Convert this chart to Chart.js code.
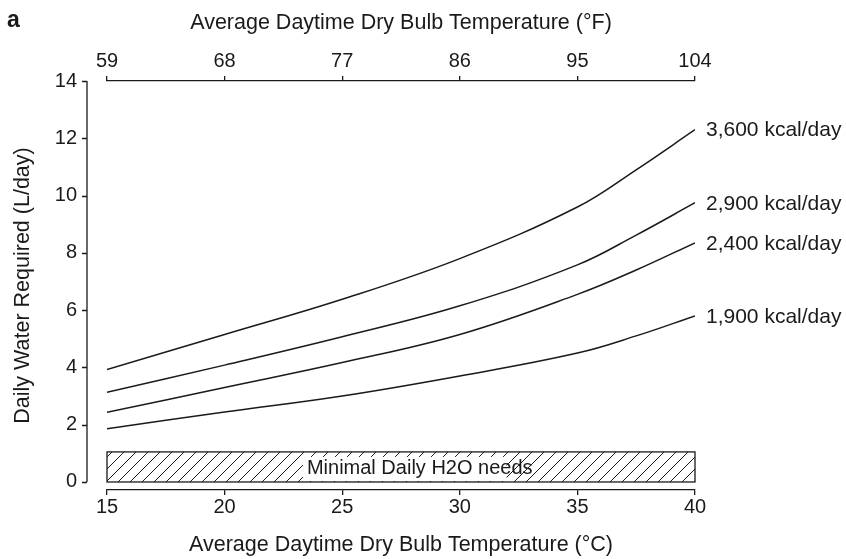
<!DOCTYPE html>
<html>
<head>
<meta charset="utf-8">
<script src="https://cdn.jsdelivr.net/npm/chart.js@4.4.0/dist/chart.umd.min.js"></script>
<style>
  html, body { margin: 0; padding: 0; background: #fff; }
</style>
</head>
<body>
<canvas id="myChart" width="846" height="559"></canvas>
<script>
// data
const tempC = [15, 20, 25, 30, 35, 37.5, 40];
const water3600 = [3.93, 5.15, 6.38, 7.8, 9.6, 10.9, 12.3];
const water2900 = [3.13, 4.08, 5.07, 6.15, 7.58, 8.62, 9.75];
const water2400 = [2.43, 3.3, 4.17, 5.15, 6.55, 7.4, 8.35];
const water1900 = [1.86, 2.44, 3.0, 3.7, 4.5, 5.1, 5.8];
const seriesLabels = ['3,600 kcal/day', '2,900 kcal/day', '2,400 kcal/day', '1,900 kcal/day'];

const xTicksC = [15, 20, 25, 30, 35, 40];
const xTicksF = [59, 68, 77, 86, 95, 104];
const yTicks = [0, 2, 4, 6, 8, 10, 12, 14];

const minimalRange = [15, 40];   // °C span of the box
const minimalWater = [0, 1.05];  // L/day
const minimalLabel = 'Minimal Daily H2O needs';

// y range padded so the bottom axis sits a little below zero
const yMin = -0.28;
const yMax = 14;

const ink = '#1a1a1a';
const fontFamily = '"Liberation Sans", Arial, Helvetica, sans-serif';
Chart.defaults.font.family = fontFamily;
Chart.defaults.color = ink;

function toPoints(arr) {
  return tempC.map((t, i) => ({ x: t, y: arr[i] }));
}

function hatchPattern(ctx) {
  const c = document.createElement('canvas');
  c.width = 12; c.height = 12;
  const p = c.getContext('2d');
  p.strokeStyle = ink;
  p.lineWidth = 1;
  p.beginPath();
  p.moveTo(0, 12); p.lineTo(12, 0);
  p.moveTo(-3, 3); p.lineTo(3, -3);
  p.moveTo(9, 15); p.lineTo(15, 9);
  p.stroke();
  return ctx.createPattern(c, 'repeat');
}

const extras = {
  id: 'extras',
  beforeDatasetsDraw(chart) {
    const { ctx } = chart;
    const x = chart.scales.x, y = chart.scales.y;
    const left = x.getPixelForValue(minimalRange[0]);
    const right = x.getPixelForValue(minimalRange[1]);
    const top = y.getPixelForValue(minimalWater[1]);
    const bottom = y.getPixelForValue(minimalWater[0]);
    ctx.save();
    ctx.fillStyle = hatchPattern(ctx);
    ctx.fillRect(left, top, right - left, bottom - top);
    // white patch behind the label
    ctx.font = '20px ' + fontFamily;
    const tx = x.getPixelForValue(23.5);
    const tw = ctx.measureText(minimalLabel).width;
    ctx.fillStyle = '#fff';
    ctx.fillRect(tx - 4, top + 5, tw - 22, bottom - top - 6);
    ctx.strokeStyle = ink;
    ctx.lineWidth = 1.3;
    ctx.strokeRect(left, top, right - left, bottom - top);
    ctx.fillStyle = ink;
    ctx.textBaseline = 'middle';
    ctx.fillText(minimalLabel, tx, (top + bottom) / 2 + 2);
    ctx.restore();
  },
  afterDraw(chart) {
    const { ctx } = chart;
    const x = chart.scales.x, y = chart.scales.y;
    const axisX = y.right - 20; // left axis stands apart from the plot
    ctx.save();
    ctx.strokeStyle = ink;
    ctx.lineWidth = 1.3;
    ctx.beginPath();
    ctx.moveTo(axisX, y.getPixelForValue(yTicks[0]));
    ctx.lineTo(axisX, y.getPixelForValue(yTicks[yTicks.length - 1]));
    yTicks.forEach(v => {
      const py = Math.round(y.getPixelForValue(v)) + 0.5;
      ctx.moveTo(axisX, py);
      ctx.lineTo(axisX - 5, py);
    });
    ctx.stroke();

    // curve labels at the right end
    ctx.font = '21px ' + fontFamily;
    ctx.fillStyle = ink;
    ctx.textBaseline = 'middle';
    chart.data.datasets.forEach((ds, i) => {
      const last = ds.data[ds.data.length - 1];
      ctx.fillText(seriesLabels[i], x.getPixelForValue(last.x) + 11, y.getPixelForValue(last.y) + 1);
    });

    // panel letter
    ctx.font = 'bold 23px ' + fontFamily;
    ctx.textBaseline = 'alphabetic';
    ctx.fillText('a', 7, 27);
    ctx.restore();
  }
};

const tickGrid = {
  display: true,
  drawOnChartArea: false,
  drawTicks: true,
  tickLength: 5,
  color: ink,
  lineWidth: 1.3
};

const chart = new Chart(document.getElementById('myChart'), {
  type: 'line',
  data: {
    datasets: [water3600, water2900, water2400, water1900].map(arr => ({
      data: toPoints(arr),
      borderColor: ink,
      borderWidth: 1.5,
      pointRadius: 0,
      fill: false,
      tension: 0.4,
      xAxisID: 'x',
      yAxisID: 'y'
    }))
  },
  options: {
    responsive: false,
    devicePixelRatio: 1,
    animation: false,
    layout: { padding: { left: 0, right: 151, top: 0, bottom: 0 } },
    plugins: {
      legend: { display: false },
      tooltip: { enabled: false }
    },
    scales: {
      x: {
        type: 'linear',
        position: 'bottom',
        min: xTicksC[0],
        max: xTicksC[xTicksC.length - 1],
        afterBuildTicks: s => { s.ticks = xTicksC.map(v => ({ value: v })); },
        afterFit: s => { s.height = 69; },
        grid: tickGrid,
        border: { display: true, color: ink, width: 1.3 },
        ticks: { font: { size: 20 }, padding: 0, maxRotation: 0, color: ink },
        title: {
          display: true,
          text: 'Average Daytime Dry Bulb Temperature (°C)',
          font: { size: 21.5 },
          padding: { top: 0, bottom: 1 },
          color: ink
        }
      },
      x2: {
        type: 'linear',
        position: 'top',
        min: xTicksF[0],
        max: xTicksF[xTicksF.length - 1],
        afterBuildTicks: s => { s.ticks = xTicksF.map(v => ({ value: v })); },
        afterFit: s => { s.height = 81; },
        grid: tickGrid,
        border: { display: true, color: ink, width: 1.3 },
        ticks: { font: { size: 20 }, padding: 3, maxRotation: 0, color: ink },
        title: {
          display: true,
          text: 'Average Daytime Dry Bulb Temperature (°F)',
          font: { size: 21.5 },
          padding: { top: 10, bottom: 0 },
          color: ink
        }
      },
      y: {
        type: 'linear',
        position: 'left',
        min: yMin,
        max: yMax,
        afterBuildTicks: s => { s.ticks = yTicks.map(v => ({ value: v })); },
        afterFit: s => { s.width = 107; },
        grid: { display: false, drawTicks: false },
        border: { display: false },
        ticks: { font: { size: 20 }, padding: 30, color: ink },
        title: {
          display: true,
          text: 'Daily Water Required (L/day)',
          font: { size: 21.5 },
          padding: { top: 10, bottom: 0 },
          color: ink
        }
      }
    }
  },
  plugins: [extras]
});
</script>
</body>
</html>
